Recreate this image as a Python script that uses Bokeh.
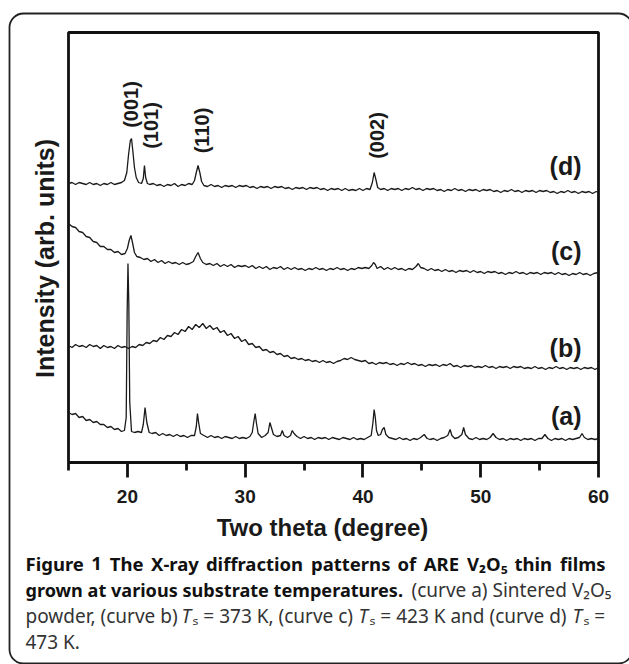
import math
from bokeh.plotting import figure
from bokeh.models import Range1d, FixedTicker, Label, BoxAnnotation
from bokeh.embed import file_html
from bokeh.resources import INLINE

# ---------------- data ----------------
tick_values = [20, 30, 40, 50, 60]
minor_values = [15, 25, 35, 45, 55]
x_title = "Two theta (degree)"
y_title = "Intensity (arb. units)"
curve_names = ["(a)", "(b)", "(c)", "(d)"]
peak_names = ["(001)", "(101)", "(110)", "(002)"]
peak_pos = [20.3, 22.0, 26.3, 41.2]
peak_lab_y = [358, 337, 332, 327]
curve_lab_y = [47, 115, 212, 297]

curve_a = [(15.0, 50), (15.3, 48), (15.6, 49), (15.9, 45), (16.2, 46), (16.5, 42), (16.8, 43), (17.1, 40),
           (17.4, 41), (17.7, 38), (18.0, 38), (18.3, 35), (18.6, 36), (18.9, 33), (19.2, 34), (19.5, 31),
           (19.75, 32), (19.9, 45), (19.98, 150), (20.05, 199), (20.12, 160), (20.2, 60), (20.35, 31),
           (20.6, 30), (20.9, 31), (21.2, 30), (21.35, 38), (21.5, 55), (21.65, 40), (21.85, 30), (22.1, 29),
           (22.4, 30), (22.7, 27), (23.0, 29), (23.3, 27), (23.6, 28), (23.9, 26), (24.2, 28), (24.5, 26),
           (24.8, 27), (25.1, 25), (25.4, 27), (25.7, 27), (25.85, 36), (25.95, 49), (26.05, 40), (26.2, 29),
           (26.5, 27), (26.8, 25), (27.1, 27), (27.4, 25), (27.7, 26), (28.0, 24), (28.3, 26), (28.6, 25),
           (28.9, 24), (29.2, 26), (29.5, 24), (29.8, 25), (30.1, 24), (30.4, 26), (30.6, 30), (30.75, 42),
           (30.85, 49), (30.95, 40), (31.1, 29), (31.4, 25), (31.7, 27), (31.95, 30), (32.1, 40), (32.2, 36),
           (32.4, 28), (32.7, 26), (33.0, 27), (33.15, 32), (33.3, 27), (33.6, 25), (33.85, 27), (34.0, 32),
           (34.15, 29), (34.4, 26), (34.7, 24), (35.0, 26), (35.3, 24), (35.6, 25), (35.9, 23), (36.2, 25),
           (36.5, 24), (36.8, 25), (37.1, 23), (37.4, 25), (37.7, 24), (38.0, 23), (38.3, 25), (38.6, 24),
           (38.9, 23), (39.2, 25), (39.5, 23), (39.8, 24), (40.1, 23), (40.4, 25), (40.7, 27), (40.85, 40),
           (40.95, 53), (41.05, 45), (41.15, 32), (41.3, 27), (41.5, 28), (41.65, 33), (41.8, 35), (41.95, 28),
           (42.2, 25), (42.5, 24), (42.8, 23), (43.1, 25), (43.4, 23), (43.7, 24), (44.0, 22), (44.3, 24),
           (44.6, 23), (44.9, 25), (45.2, 28), (45.45, 24), (45.7, 23), (46.0, 24), (46.3, 22), (46.6, 24),
           (46.9, 25), (47.2, 27), (47.4, 33), (47.55, 27), (47.8, 24), (48.1, 25), (48.4, 28), (48.55, 35),
           (48.7, 28), (49.0, 24), (49.3, 23), (49.6, 25), (49.9, 23), (50.2, 24), (50.5, 23), (50.8, 25),
           (51.05, 29), (51.3, 25), (51.6, 23), (51.9, 24), (52.2, 22), (52.5, 24), (52.8, 23), (53.1, 24),
           (53.4, 22), (53.7, 24), (54.0, 23), (54.3, 24), (54.6, 22), (54.9, 24), (55.2, 24), (55.45, 28),
           (55.7, 24), (56.0, 22), (56.3, 24), (56.6, 23), (56.9, 24), (57.2, 22), (57.5, 24), (57.8, 23),
           (58.1, 24), (58.4, 25), (58.6, 29), (58.8, 25), (59.1, 23), (59.4, 24), (59.7, 23), (60.0, 24)]

curve_b = [(15.0, 117), (15.3, 115), (15.6, 118), (15.9, 116), (16.2, 117), (16.5, 115), (16.8, 118), (17.1, 116),
           (17.4, 117), (17.7, 114), (18.0, 117), (18.3, 115), (18.6, 116), (18.9, 114), (19.2, 117), (19.5, 115),
           (19.8, 116), (20.1, 114), (20.4, 116), (20.7, 115), (21.0, 118), (21.3, 117), (21.6, 120), (21.9, 119),
           (22.2, 122), (22.5, 121), (22.8, 125), (23.1, 123), (23.4, 127), (23.7, 126), (24.0, 130), (24.3, 128),
           (24.6, 133), (24.9, 131), (25.2, 136), (25.5, 133), (25.8, 138), (26.1, 135), (26.4, 139), (26.7, 134),
           (27.0, 137), (27.3, 133), (27.6, 135), (27.9, 130), (28.2, 132), (28.5, 127), (28.8, 129), (29.1, 124),
           (29.4, 126), (29.7, 121), (30.0, 123), (30.3, 118), (30.6, 119), (30.9, 115), (31.2, 116), (31.5, 112),
           (31.8, 113), (32.1, 110), (32.4, 111), (32.7, 108), (33.0, 109), (33.3, 106), (33.6, 107), (33.9, 104),
           (34.2, 105), (34.5, 103), (34.8, 104), (35.1, 102), (35.4, 103), (35.7, 101), (36.0, 102), (36.3, 100),
           (36.6, 102), (36.9, 100), (37.2, 101), (37.5, 99), (37.8, 101), (38.1, 102), (38.4, 104), (38.7, 103),
           (39.0, 105), (39.3, 103), (39.6, 102), (39.9, 101), (40.2, 102), (40.5, 99), (40.8, 100), (41.1, 98),
           (41.4, 100), (41.7, 99), (42.0, 100), (42.3, 98), (42.6, 99), (42.9, 97), (43.2, 99), (43.5, 98),
           (43.8, 100), (44.1, 98), (44.4, 99), (44.7, 97), (45.0, 98), (45.3, 96), (45.6, 98), (45.9, 97),
           (46.2, 98), (46.5, 96), (46.8, 98), (47.1, 97), (47.4, 99), (47.7, 96), (48.0, 97), (48.3, 95),
           (48.6, 97), (48.9, 96), (49.2, 97), (49.5, 95), (49.8, 96), (50.1, 95), (50.4, 97), (50.7, 95),
           (51.0, 96), (51.3, 94), (51.6, 96), (51.9, 95), (52.2, 96), (52.5, 94), (52.8, 96), (53.1, 95),
           (53.4, 96), (53.7, 94), (54.0, 95), (54.3, 94), (54.6, 96), (54.9, 94), (55.2, 95), (55.5, 93),
           (55.8, 95), (56.1, 94), (56.4, 96), (56.7, 94), (57.0, 95), (57.3, 93), (57.6, 95), (57.9, 94),
           (58.2, 95), (58.5, 93), (58.8, 95), (59.1, 94), (59.4, 95), (59.7, 93), (60.0, 95)]

curve_c = [(15.0, 239), (15.3, 236), (15.6, 235), (15.9, 231), (16.2, 230), (16.5, 226), (16.8, 225), (17.1, 221),
           (17.4, 220), (17.7, 216), (18.0, 216), (18.3, 213), (18.6, 213), (18.9, 210), (19.2, 211), (19.5, 208),
           (19.8, 209), (20.0, 214), (20.15, 222), (20.3, 227), (20.45, 219), (20.6, 210), (20.8, 206), (21.1, 205),
           (21.4, 203), (21.7, 204), (22.0, 201), (22.3, 203), (22.6, 200), (22.9, 202), (23.2, 199), (23.5, 201),
           (23.8, 199), (24.1, 200), (24.4, 198), (24.7, 200), (25.0, 198), (25.3, 199), (25.6, 201), (25.8, 206),
           (26.0, 210), (26.2, 204), (26.4, 200), (26.7, 198), (27.0, 199), (27.3, 197), (27.6, 199), (27.9, 196),
           (28.2, 198), (28.5, 196), (28.8, 198), (29.1, 195), (29.4, 197), (29.7, 196), (30.0, 197), (30.3, 195),
           (30.6, 197), (30.9, 194), (31.2, 196), (31.5, 194), (31.8, 196), (32.1, 193), (32.4, 195), (32.7, 194),
           (33.0, 196), (33.3, 193), (33.6, 195), (33.9, 193), (34.2, 195), (34.5, 193), (34.8, 194), (35.1, 192),
           (35.4, 194), (35.7, 193), (36.0, 195), (36.3, 193), (36.6, 194), (36.9, 192), (37.2, 194), (37.5, 193),
           (37.8, 195), (38.1, 193), (38.4, 194), (38.7, 192), (39.0, 194), (39.3, 193), (39.6, 195), (39.9, 194),
           (40.2, 195), (40.5, 194), (40.75, 197), (40.9, 200), (41.05, 198), (41.2, 194), (41.5, 196), (41.8, 193),
           (42.1, 195), (42.4, 193), (42.7, 195), (43.0, 193), (43.3, 194), (43.6, 192), (43.9, 194), (44.2, 193),
           (44.5, 196), (44.7, 199), (44.9, 195), (45.2, 194), (45.5, 192), (45.8, 194), (46.1, 192), (46.4, 193),
           (46.7, 191), (47.0, 193), (47.3, 191), (47.6, 192), (47.9, 190), (48.2, 192), (48.5, 191), (48.8, 192),
           (49.1, 190), (49.4, 192), (49.7, 190), (50.0, 191), (50.3, 189), (50.6, 191), (50.9, 190), (51.2, 191),
           (51.5, 189), (51.8, 190), (52.1, 188), (52.4, 190), (52.7, 189), (53.0, 191), (53.3, 189), (53.6, 190),
           (53.9, 188), (54.2, 190), (54.5, 189), (54.8, 190), (55.1, 188), (55.4, 190), (55.7, 189), (56.0, 190),
           (56.3, 188), (56.6, 190), (56.9, 188), (57.2, 189), (57.5, 187), (57.8, 189), (58.1, 188), (58.4, 190),
           (58.7, 188), (59.0, 189), (59.3, 187), (59.6, 189), (60.0, 190)]

curve_d = [(15.0, 279), (15.3, 280), (15.6, 278), (15.9, 280), (16.2, 279), (16.5, 278), (16.8, 280), (17.1, 278),
           (17.4, 279), (17.7, 277), (18.0, 279), (18.3, 278), (18.6, 280), (18.9, 278), (19.2, 279), (19.5, 280),
           (19.75, 282), (19.95, 290), (20.1, 308), (20.25, 322), (20.35, 324), (20.45, 313), (20.6, 295),
           (20.75, 285), (20.95, 280), (21.2, 279), (21.35, 284), (21.45, 297), (21.55, 285), (21.7, 279),
           (21.9, 278), (22.2, 279), (22.5, 277), (22.8, 278), (23.1, 276), (23.4, 278), (23.7, 277), (24.0, 279),
           (24.3, 276), (24.6, 278), (24.9, 277), (25.2, 279), (25.5, 278), (25.7, 282), (25.85, 290), (26.0, 297),
           (26.15, 290), (26.3, 281), (26.5, 277), (26.8, 276), (27.1, 278), (27.4, 276), (27.7, 277), (28.0, 275),
           (28.3, 277), (28.6, 276), (28.9, 277), (29.2, 275), (29.5, 277), (29.8, 276), (30.1, 277), (30.4, 275),
           (30.7, 276), (31.0, 274), (31.3, 276), (31.6, 275), (31.9, 276), (32.2, 274), (32.5, 276), (32.8, 275),
           (33.1, 276), (33.4, 274), (33.7, 275), (34.0, 273), (34.3, 275), (34.6, 274), (34.9, 275), (35.2, 273),
           (35.5, 275), (35.8, 274), (36.1, 275), (36.4, 273), (36.7, 274), (37.0, 272), (37.3, 274), (37.6, 273),
           (37.9, 274), (38.2, 272), (38.5, 274), (38.8, 272), (39.1, 273), (39.4, 272), (39.7, 274), (40.0, 272),
           (40.3, 274), (40.6, 273), (40.8, 280), (40.95, 290), (41.1, 283), (41.25, 275), (41.5, 273), (41.8, 274),
           (42.1, 272), (42.4, 274), (42.7, 273), (43.0, 274), (43.3, 272), (43.6, 274), (43.9, 273), (44.2, 275),
           (44.5, 273), (44.8, 274), (45.1, 272), (45.4, 274), (45.7, 273), (46.0, 274), (46.3, 272), (46.6, 273),
           (46.9, 271), (47.2, 273), (47.5, 272), (47.8, 274), (48.1, 272), (48.4, 273), (48.7, 271), (49.0, 273),
           (49.3, 272), (49.6, 273), (49.9, 271), (50.2, 273), (50.5, 272), (50.8, 273), (51.1, 271), (51.4, 272),
           (51.7, 270), (52.0, 272), (52.3, 271), (52.6, 273), (52.9, 271), (53.2, 272), (53.5, 270), (53.8, 272),
           (54.1, 271), (54.4, 272), (54.7, 270), (55.0, 272), (55.3, 271), (55.6, 272), (55.9, 270), (56.2, 271),
           (56.5, 269), (56.8, 271), (57.1, 270), (57.4, 272), (57.7, 270), (58.0, 271), (58.3, 269), (58.6, 271),
           (58.9, 270), (59.2, 271), (59.5, 269), (59.8, 271), (60.0, 270)]

caption_line1_words = ["Figure", "1", "The", "X-ray", "diffraction", "patterns", "of", "ARE",
                       "V\u2082O\u2085", "thin", "films"]
caption_line2_bold = "grown at various substrate temperatures."
caption_line2_reg = "(curve a) Sintered V\u2082O\u2085"
caption_line3 = ["powder, (curve b)", "\u209b = 373 K, (curve c)", "\u209b = 423 K and (curve d)", "\u209b ="]
caption_line4 = "473 K."

# ---------------- layout helpers ----------------
W, H = 629, 664
FL, FR, FT, FB = 68, 598, 32, 462
XMIN, XMAX = 15, 60
YMIN, YMAX = 0, FB - FT


def px2x(px):
    return XMIN + (px - FL) * (XMAX - XMIN) / (FR - FL)


def py2y(py):
    return FB - py


p = figure(width=W, height=H, output_backend="svg", toolbar_location=None,
           x_range=Range1d(px2x(0), px2x(W)), y_range=Range1d(py2y(H), py2y(0)),
           min_border_left=0, min_border_right=0, min_border_top=0, min_border_bottom=0)
p.background_fill_color = "white"
p.border_fill_color = "white"
p.grid.visible = False
p.yaxis.visible = False
p.outline_line_color = None

INK = "#111111"
ax = p.xaxis[0]
ax.fixed_location = YMIN
ax.bounds = (XMIN, XMAX)
ax.ticker = FixedTicker(ticks=tick_values, minor_ticks=minor_values)
ax.axis_line_color = INK
ax.axis_line_width = 2.8
ax.major_tick_line_color = INK
ax.major_tick_line_width = 2.8
ax.minor_tick_line_color = INK
ax.minor_tick_line_width = 2.8
ax.major_tick_in = 0
ax.major_tick_out = 15
ax.minor_tick_in = 0
ax.minor_tick_out = 8
ax.major_label_text_font = "Liberation Sans"
ax.major_label_text_font_style = "bold"
ax.major_label_text_font_size = "19px"
ax.major_label_text_color = "#1a1a1a"
ax.major_label_standoff = 12

# plot box
p.add_layout(BoxAnnotation(left=XMIN, right=XMAX, bottom=YMIN, top=YMAX, fill_alpha=0,
                           line_color=INK, line_alpha=1.0, line_dash="solid", line_width=2.8,
                           level="underlay"))

for data in [curve_a, curve_b, curve_c, curve_d]:
    xs = [d[0] for d in data]
    ys = [d[1] for d in data]
    p.line(xs, ys, line_color="#1a1a1a", line_width=1.3)

# peak labels
for name, xpos, ypos in zip(peak_names, peak_pos, peak_lab_y):
    p.add_layout(Label(x=xpos, y=ypos, text=name, angle=math.pi / 2, text_align="center",
                       text_baseline="middle", text_font="Liberation Sans", text_font_style="bold",
                       text_font_size="20px", text_color="#1a1a1a"))

# curve labels
for name, ypos in zip(curve_names, curve_lab_y):
    p.add_layout(Label(x=px2x(581), y=ypos, text=name, text_align="right", text_baseline="middle",
                       text_font="Liberation Sans", text_font_style="bold", text_font_size="25px",
                       text_color="#1a1a1a"))

# axis titles
p.add_layout(Label(x=px2x(322), y=py2y(527), text=x_title, text_align="center", text_baseline="middle",
                   text_font="Liberation Sans", text_font_style="bold", text_font_size="24px",
                   text_color="#1a1a1a"))
p.add_layout(Label(x=px2x(44), y=py2y(258), text=y_title, angle=math.pi / 2, text_align="center",
                   text_baseline="middle", text_font="Liberation Sans", text_font_style="bold",
                   text_font_size="25px", text_color="#1a1a1a"))

# caption
CF = "Noto Sans"
BOLD_PX = 18.5
REG = "19px"
BOLD = f"{BOLD_PX}px"
# justified first line: approximate word widths (em) of the bold face
word_em = [3.08, 0.57, 1.78, 2.50, 5.15, 4.17, 0.99, 1.88, 2.11, 1.98, 2.43]
em_px = BOLD_PX * 1.023
left_edge, right_edge = 25, 605
gap = (right_edge - left_edge - sum(word_em) * em_px) / (len(word_em) - 1)
xcur = left_edge
for i, (w, em) in enumerate(zip(caption_line1_words, word_em)):
    if i == len(word_em) - 1:
        lab = Label(x=px2x(right_edge), y=py2y(563), text=w, text_align="right", text_baseline="middle",
                    text_font=CF, text_font_style="bold", text_font_size=BOLD, text_color="#111111")
    else:
        lab = Label(x=px2x(xcur), y=py2y(563), text=w, text_align="left", text_baseline="middle",
                    text_font=CF, text_font_style="bold", text_font_size=BOLD, text_color="#111111")
    p.add_layout(lab)
    xcur += em * em_px + gap

p.add_layout(Label(x=px2x(25), y=py2y(589), text=caption_line2_bold, text_align="left", text_baseline="middle",
                   text_font=CF, text_font_style="bold", text_font_size="18.1px", text_color="#111111"))
p.add_layout(Label(x=px2x(611), y=py2y(589), text=caption_line2_reg, text_align="right", text_baseline="middle",
                   text_font=CF, text_font_size=REG, text_color="#333333"))
line3_x = [25, 192, 369, 583]
T_x = [181, 358, 572]
for txt, xp in zip(caption_line3, line3_x):
    p.add_layout(Label(x=px2x(xp), y=py2y(615), text=txt, text_align="left", text_baseline="middle",
                       text_font=CF, text_font_size=REG, text_color="#333333"))
for xp in T_x:
    p.add_layout(Label(x=px2x(xp), y=py2y(615), text="T", text_align="left", text_baseline="middle",
                       text_font=CF, text_font_style="italic", text_font_size=REG, text_color="#333333"))
p.add_layout(Label(x=px2x(25), y=py2y(641), text=caption_line4, text_align="left", text_baseline="middle",
                   text_font=CF, text_font_size=REG, text_color="#333333"))

# rounded outer frame (right and bottom edges run off the picture)
p.add_layout(BoxAnnotation(left=px2x(9), right=px2x(632), top=py2y(13), bottom=py2y(663),
                           fill_alpha=0, line_color="#222222", line_alpha=1.0, line_dash="solid",
                           line_width=1.8, border_radius=14))

open("out.html", "w").write(file_html(p, INLINE))
